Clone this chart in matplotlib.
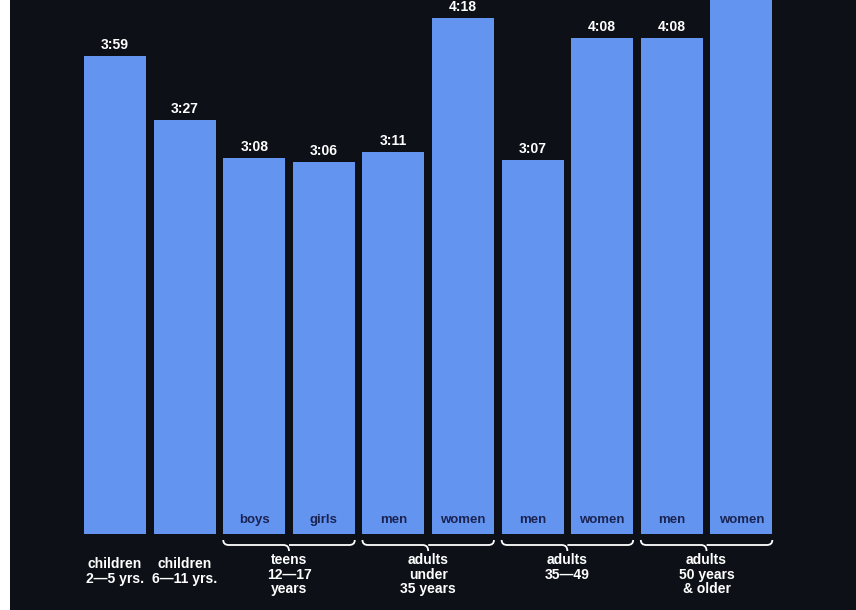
import matplotlib
matplotlib.use("Agg")
import matplotlib.pyplot as plt
from matplotlib.path import Path
from matplotlib.patches import PathPatch

# ---- data ----
time_labels = ["3:59", "3:27", "3:08", "3:06", "3:11", "4:18", "3:07", "4:08", "4:08", "4:52"]
inner_labels = ["", "", "boys", "girls", "men", "women", "men", "women", "men", "women"]
single_labels = ["children\n2\u20145 yrs.", "children\n6\u201411 yrs."]
group_labels = ["teens\n12\u201417\nyears", "adults\nunder\n35 years", "adults\n35\u201449", "adults\n50 years\n& older"]
group_spans = [(2, 3), (4, 5), (6, 7), (8, 9)]

minutes = [int(t.split(":")[0]) * 60 + int(t.split(":")[1]) for t in time_labels]

BG = "#0d1117"
BAR = "#6394ef"
FONT = "Liberation Sans"
YMAX = 267

fig = plt.figure(figsize=(8.56, 6.10), dpi=100, facecolor="white")
ax = fig.add_axes([10 / 856, 0, 1 - 10 / 856, 1])
ax.set_facecolor(BG)

x = list(range(len(minutes)))
ax.bar(x, minutes, width=0.89, color=BAR, edgecolor="none", zorder=2)

ax.set_xlim(-1.509, 10.647)
ax.set_ylim(-38, YMAX)
for s in ax.spines.values():
    s.set_visible(False)
ax.set_xticks([])
ax.set_yticks([])

# value labels (the tallest bar's label falls above the frame, as in the reference)
for xi, v, t in zip(x, minutes, time_labels):
    if v < YMAX - 6:
        ax.text(xi, v + 5.5, t, ha="center", va="center", color="white",
                fontsize=10, fontweight="bold", family=FONT, zorder=3)

# inner labels
for xi, lab in zip(x, inner_labels):
    if lab:
        ax.text(xi, 7, lab, ha="center", va="center", color="#1b2352",
                fontsize=9.5, fontweight="bold", family=FONT, zorder=3)

# single labels
for xi, lab in zip([0, 1], single_labels):
    ax.text(xi, -11.5, lab, ha="center", va="top", color="white",
            fontsize=10, fontweight="bold", family=FONT, linespacing=1.05)

# braces and group labels
def brace(x0, x1, y=-5.5, curl=2.5, tip=3.0):
    xm = (x0 + x1) / 2
    h = 0.08
    verts = [
        (x0, y + curl), (x0, y), (x0 + h, y),
        (xm - h, y), (xm, y), (xm, y - tip),
        (xm, y), (xm + h, y),
        (x1 - h, y), (x1, y), (x1, y + curl),
    ]
    codes = [Path.MOVETO, Path.CURVE3, Path.CURVE3,
             Path.LINETO, Path.CURVE3, Path.CURVE3,
             Path.MOVETO, Path.LINETO,
             Path.LINETO, Path.CURVE3, Path.CURVE3]
    ax.add_patch(PathPatch(Path(verts, codes), facecolor="none",
                           edgecolor="white", lw=1.3, zorder=3))

for (a, b), lab in zip(group_spans, group_labels):
    x0 = a - 0.445
    x1 = b + 0.445
    brace(x0, x1)
    ax.text((a + b) / 2, -9.5, lab, ha="center", va="top", color="white",
            fontsize=10, fontweight="bold", family=FONT, linespacing=1.05)

fig.savefig("out.png", dpi=100, facecolor=fig.get_facecolor())
